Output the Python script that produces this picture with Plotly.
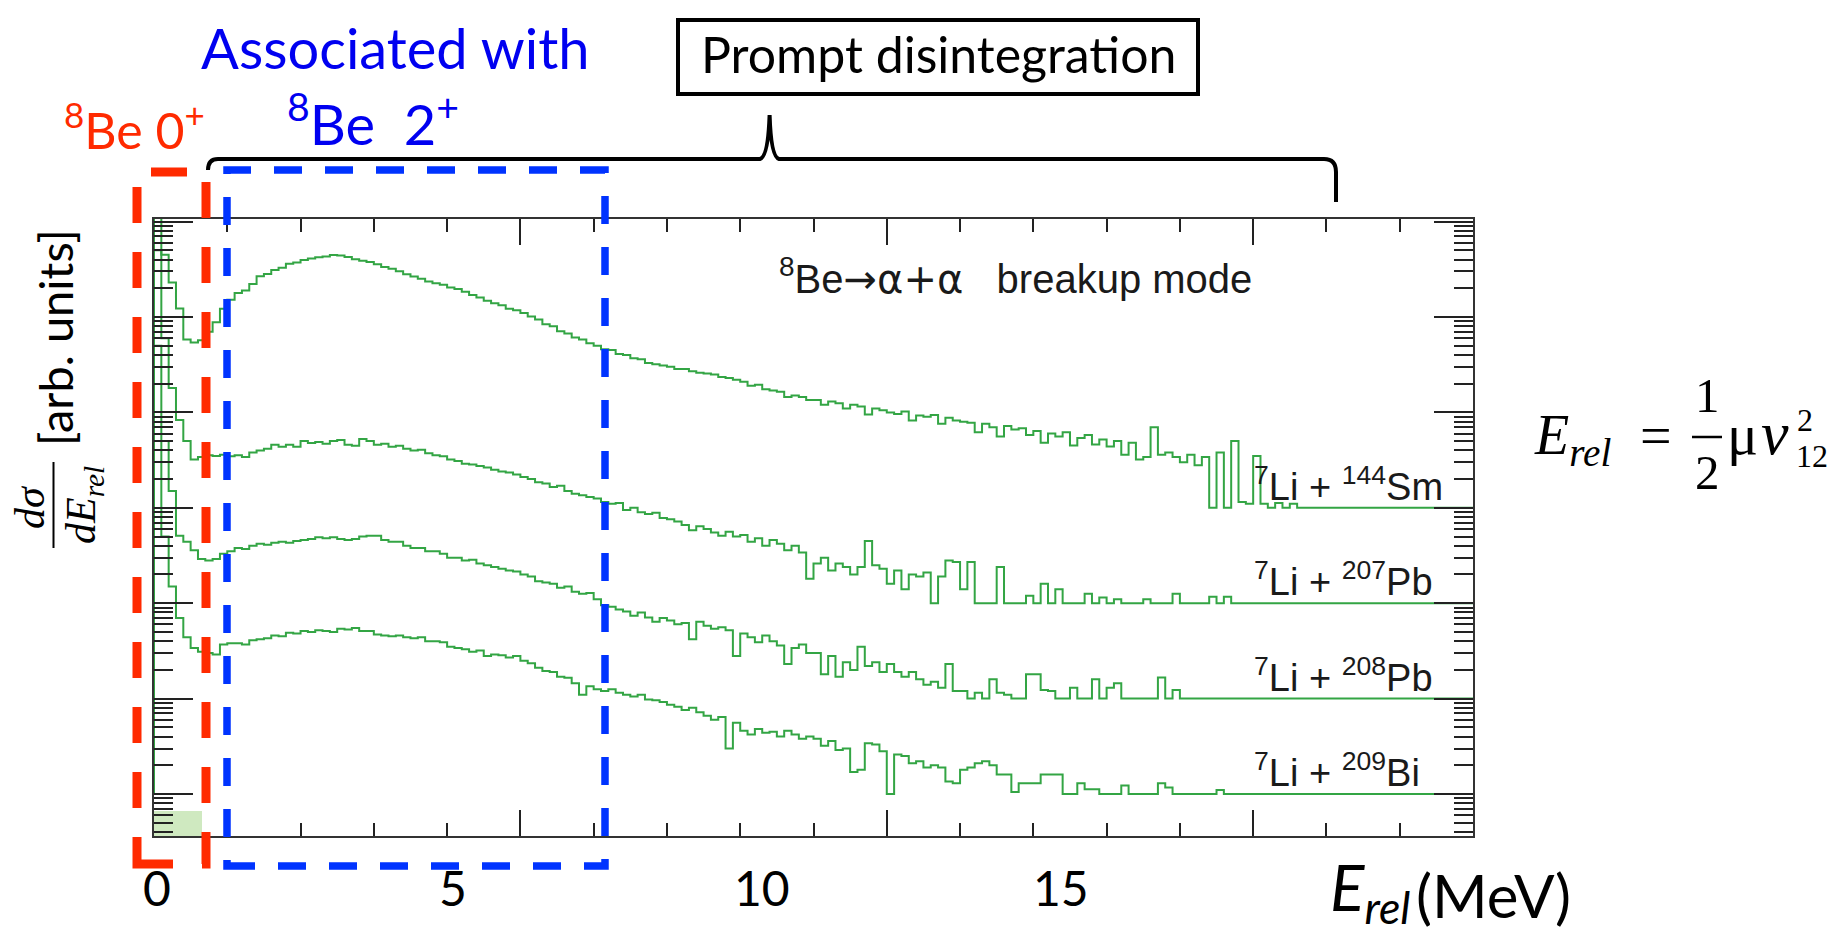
import numpy as np
import plotly.graph_objects as go

# ---------------------------------------------------------------------------
# dσ/dE_rel spectra for 8Be -> α+α breakup, 0.1 MeV bins from 0 to 18 MeV.
# Each reaction is drawn on a common log axis, shifted by its own decade.
# ---------------------------------------------------------------------------
BIN_WIDTH = 0.1
E_MAX = 18.0

li7_sm144 = [
    5000, 450, 230, 123, 58, 54, 57, 70, 88, 122,
    152, 178, 190, 222, 268, 282, 310, 328, 362, 372,
    396, 410, 422, 430, 446, 440, 425, 402, 388, 376,
    356, 334, 320, 302, 280, 266, 252, 236, 226, 218,
    204, 196, 184, 170, 160, 148, 139, 133, 122, 118,
    110, 101, 94, 84, 80, 71, 67, 61, 58, 53,
    50, 46, 45, 41, 40, 37, 36, 33, 32, 31,
    30, 28.5, 28.5, 27, 26, 25.5, 25, 23.5, 23, 22,
    21, 19, 19.5, 17.5, 17, 16.5, 14.5, 15, 14.5, 13.5,
    13.5, 12, 13, 12.5, 11, 12, 11.5, 9.5, 11, 10.5,
    10, 9.6, 10.2, 8.2, 9.3, 9.0, 9.4, 7.6, 8.8, 8.2,
    8.0, 7.8, 6.2, 7.6, 7.0, 5.6, 7.2, 6.6, 6.8, 5.8,
    6.4, 4.8, 6.0, 5.6, 6.2, 4.5, 5.4, 5.8, 4.6, 5.2,
    4.4, 5.0, 3.6, 4.8, 3.2, 3.4, 7.0, 3.6, 3.8, 3.4,
    3.0, 3.6, 2.8, 3.4, 0, 3.8, 0, 5.0, 1.15, 1.1,
    3.5, 1.1, 0, 1.12, 0, 1.1, 0, 0, 0, 0,
    0, 0, 0, 0, 0, 0, 0, 0, 0, 0,
    0, 0, 0, 0, 0, 0, 0, 0, 0, 0,
]

li7_pb207 = [
    5000, 600, 180, 83, 50, 32, 34, 35.5, 35, 36,
    34.7, 35.5, 34, 38, 39.8, 41.7, 45.7, 43.6, 45.7, 43.6,
    50, 47.9, 49, 46.8, 50, 51.3, 45.7, 44.7, 52.5, 50,
    45.7, 46.8, 43.6, 44.7, 41.7, 39.8, 40.7, 37.2, 35.5, 34.7,
    32, 31, 29, 28.5, 27.5, 26.5, 25, 24, 23.5, 22.4,
    21, 20, 18.5, 18, 16.5, 17, 15, 14, 13.5, 13,
    12.5, 11.5, 11, 11.2, 9.5, 10, 9, 8.6, 8.9, 7.8,
    7.6, 7.2, 6.6, 5.8, 6.4, 6.0, 5.5, 5.1, 5.6, 5.0,
    5.2, 4.4, 4.8, 4.0, 4.6, 4.2, 3.6, 4.0, 3.4, 1.8,
    2.6, 3.0, 2.2, 2.6, 2.4, 2.0, 2.4, 4.5, 2.5, 2.3,
    1.6, 2.2, 1.4, 2.0, 1.9, 2.1, 0, 1.9, 2.8, 2.7,
    1.4, 2.7, 0, 0, 0, 2.4, 0, 0, 0, 1.2,
    0, 1.6, 0, 1.4, 0, 0, 0, 1.26, 0, 1.15,
    0, 1.1, 0, 0, 0, 1.1, 0, 0, 0, 1.26,
    0, 0, 0, 0, 1.17, 0, 1.17, 0, 0, 0,
    0, 0, 0, 0, 0, 0, 0, 0, 0, 0,
    0, 0, 0, 0, 0, 0, 0, 0, 0, 0,
    0, 0, 0, 0, 0, 0, 0, 0, 0, 0,
]

li7_pb208 = [
    5000, 500, 150, 51, 44, 36, 29, 28, 29, 33,
    35, 38, 37, 40, 42, 41, 43, 44, 43, 45,
    46, 47, 49, 48, 49, 47, 46, 47, 50, 51,
    51, 46, 44, 44, 40, 38, 38, 35, 35, 33,
    30, 30, 28, 28.5, 26, 25, 24, 23, 22, 21.5,
    20, 19, 17, 16.5, 16, 14.5, 15, 13.2, 12.6, 12.8,
    11, 9.5, 9.2, 8.6, 8.2, 7.4, 8.0, 7.1, 6.4, 7.0,
    6.6, 6.0, 6.2, 4.2, 6.4, 5.8, 5.4, 5.6, 5.2, 2.8,
    4.8, 4.4, 3.9, 4.6, 4.0, 3.6, 2.3, 3.4, 3.7, 3.0,
    3.0, 1.8, 2.8, 1.7, 2.4, 2.0, 3.5, 2.2, 2.4, 1.9,
    2.3, 1.9, 1.7, 1.9, 1.6, 1.4, 1.5, 1.3, 2.3, 1.2,
    1.2, 0, 1.15, 0, 1.6, 1.15, 1.1, 0, 0, 1.8,
    1.8, 1.23, 1.2, 0, 0, 1.3, 0, 0, 1.6, 0,
    1.3, 1.45, 0, 0, 0, 0, 0, 1.66, 0, 1.23,
    0, 0, 0, 0, 0, 0, 0, 0, 0, 0,
    0, 0, 0, 0, 0, 0, 0, 0, 0, 0,
    0, 0, 0, 0, 0, 0, 0, 0, 0, 0,
    0, 0, 0, 0, 0, 0, 0, 0, 0, 0,
]

li7_bi209 = [
    5000, 500, 150, 70, 44, 34, 31, 30, 29, 37,
    38, 38, 37, 41, 42, 43, 46, 45, 49, 48,
    51, 50, 52, 51, 50, 54, 53, 55, 51, 51,
    47, 46, 45, 46, 44, 43, 44, 40, 40, 39,
    35, 34, 33, 31, 32, 28, 29, 28.5, 27, 28,
    25, 23.5, 21, 19.5, 19, 17, 16.5, 14.5, 11, 13.5,
    12.5, 12, 12.5, 11.5, 11, 10.5, 11, 9.8, 9.6, 9.2,
    8.6, 8.2, 7.6, 8.0, 7.2, 6.6, 6.0, 6.4, 3.0, 5.6,
    4.6, 4.2, 4.8, 4.4, 4.5, 4.0, 4.6, 4.2, 3.8, 4.0,
    3.8, 3.2, 3.6, 2.9, 3.0, 1.7, 1.8, 3.4, 3.3, 2.8,
    0, 2.6, 2.5, 2.1, 2.2, 1.9, 2.0, 1.9, 1.35, 1.3,
    1.8, 1.9, 2.1, 2.2, 2.0, 1.6, 1.6, 1.05, 1.3, 1.3,
    1.3, 1.6, 1.6, 1.6, 0, 0, 1.3, 1.12, 1.12, 0,
    0, 0, 1.23, 0, 0, 0, 0, 1.3, 1.17, 0,
    0, 0, 0, 0, 0, 1.1, 0, 0, 0, 0,
    0, 0, 0, 0, 0, 0, 0, 0, 0, 0,
    0, 0, 0, 0, 0, 0, 0, 0, 0, 0,
    0, 0, 0, 0, 0, 0, 0, 0, 0, 0,
]

spectra = [li7_sm144, li7_pb207, li7_pb208, li7_bi209]
reaction_labels = [
    "<sup>7</sup>Li + <sup>144</sup>Sm",
    "<sup>7</sup>Li + <sup>207</sup>Pb",
    "<sup>7</sup>Li + <sup>208</sup>Pb",
    "<sup>7</sup>Li + <sup>209</sup>Bi",
]
decade_offsets = [1e4, 1e3, 1e2, 1e1]   # vertical shift of each spectrum
HIST_FLOOR = 1.0                          # empty bins sit on the spectrum's floor
LABEL_E = 15.0                            # reaction labels start at this energy

# shaded 8Be ground-state band below the lowest spectrum
gs_band_edge = 0.65   # MeV
gs_band_top = 6.6     # arb. units

x_major = [5, 10, 15]
slide_x_labels = ["0", "5", "10", "15"]
Y_LOG_RANGE = [0.56, 7.027]

# ---------------------------------------------------------------------------
W, H = 1842, 936
L, R, T, B = 154, 1473, 219, 836       # plot frame in pixels

GREEN = "#33a544"
LIGHT_GREEN = "#cfe9c0"
RED = "#ff2a00"
BLUE = "#0033ff"
TXT_BLUE = "#0000f0"
INK = "#1a1a1a"
SERIF = "Liberation Serif"


def px(x):
    return (x - L) / (R - L)


def py(y):
    return (B - y) / (B - T)


fig = go.Figure()

fig.add_trace(go.Bar(
    x=[gs_band_edge / 2], y=[gs_band_top], width=[gs_band_edge],
    marker=dict(color=LIGHT_GREEN, line=dict(width=0)), hoverinfo="skip",
))

edges = np.arange(len(li7_sm144) + 1) * BIN_WIDTH
for vals, off in zip(spectra, decade_offsets):
    v = np.maximum(np.asarray(vals, dtype=float), HIST_FLOOR) * off
    xs = np.concatenate([[edges[0]], edges])
    ys = np.concatenate([[HIST_FLOOR * off], v, [v[-1]]])
    fig.add_trace(go.Scatter(
        x=xs, y=ys, mode="lines", line=dict(color=GREEN, width=2, shape="hv"),
        hoverinfo="skip",
    ))

axis_common = dict(
    showline=True, linecolor="#333333", linewidth=2, mirror="ticks",
    ticks="inside", tickcolor="#222222", tickwidth=1.5,
    showticklabels=False, showgrid=False, zeroline=False,
)
fig.update_xaxes(range=[0, E_MAX], tickvals=x_major, ticklen=26,
                 minor=dict(ticks="inside", ticklen=13, dtick=1, tick0=0,
                            tickcolor="#222222", tickwidth=1.5, showgrid=False),
                 **axis_common)
fig.update_yaxes(type="log", range=Y_LOG_RANGE, dtick=1, ticklen=39,
                 minor=dict(ticks="inside", ticklen=19, dtick="D1",
                            tickcolor="#222222", tickwidth=1.5, showgrid=False),
                 **axis_common)

fig.update_layout(
    width=W, height=H, margin=dict(l=L, r=W - R, t=T, b=H - B, pad=0),
    paper_bgcolor="white", plot_bgcolor="white", showlegend=False, bargap=0,
)


def text(s, x, y, size, color="black", family="Lato", xanchor="center",
         yanchor="bottom", angle=0):
    fig.add_annotation(text=s, x=px(x), y=py(y), xref="paper", yref="paper",
                       showarrow=False, xanchor=xanchor, yanchor=yanchor,
                       textangle=angle, borderpad=0,
                       font=dict(family=family, size=size, color=color))


def path(points):
    out = []
    for cmd, *coords in points:
        pairs = [f"{px(coords[i])},{py(coords[i + 1])}" for i in range(0, len(coords), 2)]
        out.append(cmd + " " + " ".join(pairs))
    return " ".join(out)


# inner plot text
decay = "<span style=\"font-family:'DejaVu Sans'\">\u2192\u03b1+\u03b1</span>"
text("<sup>8</sup>Be" + decay + "\u00a0\u00a0 breakup mode", 778, 303, 40,
     color=INK, family="Liberation Sans", xanchor="left")
for lab, off in zip(reaction_labels, decade_offsets):
    fig.add_annotation(text=lab, x=LABEL_E, y=np.log10(off), xref="x", yref="y",
                       showarrow=False, xanchor="left", yanchor="bottom",
                       borderpad=0, yshift=-1,
                       font=dict(family="Liberation Sans", size=38, color=INK))

# red / blue dashed regions
fig.add_shape(type="rect", xref="paper", yref="paper",
              x0=px(137), x1=px(206), y0=py(864), y1=py(172),
              line=dict(color=RED, width=9, dash="36px,29px"))
fig.add_shape(type="rect", xref="paper", yref="paper",
              x0=px(227), x1=px(605), y0=py(866), y1=py(170),
              line=dict(color=BLUE, width=7.5, dash="28px,23px"))

# curly bracket over the prompt region
fig.add_shape(type="path", xref="paper", yref="paper",
              path=path([("M", 208, 170), ("Q", 208, 159, 218, 159),
                         ("L", 760, 159), ("Q", 768, 157, 769.6, 115),
                         ("Q", 771, 157, 779, 159), ("L", 1324, 159),
                         ("Q", 1336, 159, 1336, 172), ("L", 1336, 202)]),
              line=dict(color="black", width=4))
fig.add_shape(type="rect", xref="paper", yref="paper",
              x0=px(678), x1=px(1198), y0=py(94), y1=py(20),
              line=dict(color="black", width=4), fillcolor="white")
text("Prompt disintegration", 938, 85, 50)

# slide annotations
text("Associated with", 395, 82, 56, color=TXT_BLUE)
text("<sup>8</sup>Be\u00a0 2<sup>+</sup>", 373, 158, 56, color=TXT_BLUE)
text("<sup>8</sup>Be 0<sup>+</sup>", 134, 161, 50, color=RED)

# x tick labels and axis title
for lab, xc in zip(slide_x_labels, [157, 453, 762, 1061]):
    text(lab, xc, 917, 48)
text("<i>E</i><sub><i>rel</i></sub>", 1329, 935, 64, xanchor="left")
text("(MeV)", 1415, 932, 60, xanchor="left")

# y axis title
text("[arb. units]", 55, 338, 47, yanchor="middle", angle=-90)
text("<i>d\u03c3</i>", 30, 507, 42, family=SERIF, yanchor="middle", angle=-90)
text("<i>dE</i><sub><i>rel</i></sub>", 84, 505, 42, family=SERIF,
     yanchor="middle", angle=-90)
fig.add_shape(type="line", xref="paper", yref="paper", x0=px(53.5), x1=px(53.5),
              y0=py(548), y1=py(462), line=dict(color="black", width=2))

# E_rel definition
text("<i>E</i><sub><i>rel</i></sub>", 1533, 475, 56, family=SERIF, xanchor="left")
text("=", 1656, 468, 56, family=SERIF)
text("1", 1707, 424, 49, family=SERIF)
fig.add_shape(type="line", xref="paper", yref="paper", x0=px(1692), x1=px(1722),
              y0=py(437), y1=py(437), line=dict(color="black", width=2.5))
text("2", 1707, 501, 49, family=SERIF)
text("\u03bc", 1742, 468, 58, family=SERIF)
text("<i>v</i>", 1775, 468, 62, family=SERIF)
text("2", 1805, 439, 32, family=SERIF)
text("12", 1812, 475, 32, family=SERIF)

fig.write_html("out.html")
